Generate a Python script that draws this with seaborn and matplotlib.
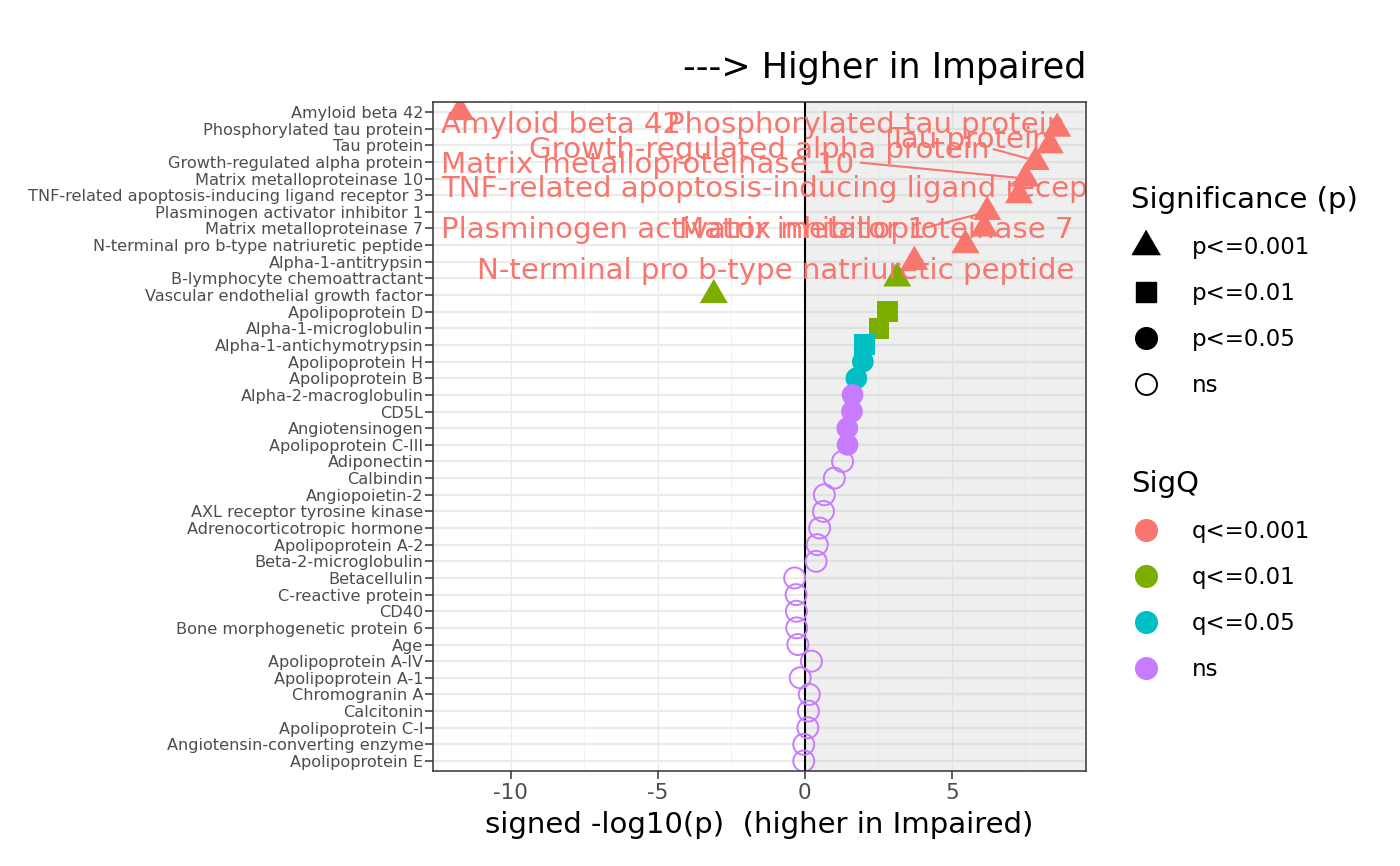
import matplotlib
matplotlib.use("Agg")
import matplotlib.pyplot as plt
from matplotlib.lines import Line2D
import pandas as pd
import seaborn as sns

# --- data ---
proteins = [
    "Amyloid beta 42", "Phosphorylated tau protein", "Tau protein",
    "Growth-regulated alpha protein", "Matrix metalloproteinase 10",
    "TNF-related apoptosis-inducing ligand receptor 3",
    "Plasminogen activator inhibitor 1", "Matrix metalloproteinase 7",
    "N-terminal pro b-type natriuretic peptide", "Alpha-1-antitrypsin",
    "B-lymphocyte chemoattractant", "Vascular endothelial growth factor",
    "Apolipoprotein D", "Alpha-1-microglobulin", "Alpha-1-antichymotrypsin",
    "Apolipoprotein H", "Apolipoprotein B", "Alpha-2-macroglobulin", "CD5L",
    "Angiotensinogen", "Apolipoprotein C-III", "Adiponectin", "Calbindin",
    "Angiopoietin-2", "AXL receptor tyrosine kinase",
    "Adrenocorticotropic hormone", "Apolipoprotein A-2", "Beta-2-microglobulin",
    "Betacellulin", "C-reactive protein", "CD40", "Bone morphogenetic protein 6",
    "Age", "Apolipoprotein A-IV", "Apolipoprotein A-1", "Chromogranin A",
    "Calcitonin", "Apolipoprotein C-I", "Angiotensin-converting enzyme",
    "Apolipoprotein E",
]
scores = [
    -11.73, 8.58, 8.33, 7.85, 7.5, 7.28, 6.2, 6.1, 5.46, 3.72,
    3.14, -3.1, 2.81, 2.52, 2.02, 1.97, 1.75, 1.62, 1.6, 1.44,
    1.45, 1.28, 1.0, 0.66, 0.63, 0.5, 0.42, 0.38, -0.35, -0.3,
    -0.29, -0.28, -0.24, 0.22, -0.16, 0.15, 0.12, 0.1, -0.04, -0.04,
]
sig_p = (["p<=0.001"] * 12 + ["p<=0.01"] * 3 + ["p<=0.05"] * 6 + ["ns"] * 19)
sig_q = (["q<=0.001"] * 10 + ["q<=0.01"] * 4 + ["q<=0.05"] * 3
         + ["ns"] * 4 + ["ns"] * 19)

p_levels = ["p<=0.001", "p<=0.01", "p<=0.05", "ns"]
q_levels = ["q<=0.001", "q<=0.01", "q<=0.05", "ns"]
q_colors = {"q<=0.001": "#F8766D", "q<=0.01": "#7CAE00",
            "q<=0.05": "#00BFC4", "ns": "#C77CFF"}

# repel-style labels: text, left edge (x units), baseline (row units)
label_text = [
    "Amyloid beta 42", "Phosphorylated tau protein", "Tau protein",
    "Growth-regulated alpha protein", "Matrix metalloproteinase 10",
    "TNF-related apoptosis-inducing ligand receptor 3",
    "Plasminogen activator inhibitor 1", "Matrix metalloproteinase 7",
    "N-terminal pro b-type natriuretic peptide",
]
label_x = [-12.38, -4.69, 2.82, -9.39, -12.38, -12.38, -12.38, -4.29, -11.16]
label_y = [1.24, 1.24, 2.14, 2.78, 3.65, 5.08, 7.6, 7.6, 10.04]
# connector segments ((x0, x1), (y0, y1))
segments = [
    ((6.39, 7.76), (2.22, 2.88)),
    ((1.87, 7.76), (3.04, 4.04)),
    ((2.86, 2.86), (1.14, 3.06)),
    ((4.08, 5.95), (6.96, 6.12)),
]

df = pd.DataFrame({"protein": proteins, "score": scores,
                   "SigP": sig_p, "SigQ": sig_q})
df["row"] = range(len(df))

red = q_colors["q<=0.001"]
tri = [(0, 1), (-0.866, -0.5), (0.866, -0.5)]

fig = plt.figure(figsize=(14, 8.66), dpi=100)
ax = fig.add_axes([0.3093, 0.1097, 0.4664, 0.7725])

xmin, xmax = -12.65, 9.56
ax.set_xlim(xmin, xmax)
ax.set_ylim(len(df) - 1 + 0.6, -0.6)

# grid
ax.set_axisbelow(True)
for r in df["row"]:
    ax.axhline(r, color="#EBEBEB", lw=1.6, zorder=0.5)
for xv in [-10, -5, 0, 5]:
    ax.axvline(xv, color="#EBEBEB", lw=0.95, zorder=0.5)
for xv in [-12.5, -7.5, -2.5, 2.5, 7.5]:
    ax.axvline(xv, color="#EBEBEB", lw=0.5, zorder=0.5)

ax.axvspan(0, xmax, color="#BEBEBE", alpha=0.23, lw=0, zorder=1)
ax.axvline(0, color="black", lw=1.5, zorder=2)

filled = df[df["SigP"] != "ns"]
sns.scatterplot(
    data=filled, x="score", y="row", hue="SigQ", palette=q_colors,
    style="SigP", markers={"p<=0.001": tri, "p<=0.01": "s", "p<=0.05": "o"},
    size="SigP", sizes={"p<=0.001": 543, "p<=0.01": 228, "p<=0.05": 244},
    edgecolor="none", linewidth=0, legend=False, ax=ax, zorder=3,
)
open_pts = df[df["SigP"] == "ns"]
sns.scatterplot(
    data=open_pts, x="score", y="row", marker="o", s=228,
    facecolor="none", edgecolor=q_colors["ns"], linewidth=1.4,
    legend=False, ax=ax, zorder=3,
)

# labels + segments
for (sx, sy) in segments:
    ax.plot(sx, sy, color=red, lw=1.5, zorder=4, solid_capstyle="butt")
for txt, lx, ly in zip(label_text, label_x, label_y):
    ax.text(lx, ly, txt, color=red, fontsize=21.1, ha="left", va="baseline",
            clip_on=True, zorder=5)

# axes styling
ax.set_yticks(df["row"])
ax.set_yticklabels(df["protein"], fontsize=11.6, color="#4D4D4D")
ax.set_xticks([-10, -5, 0, 5])
ax.set_xticklabels(["-10", "-5", "0", "5"], fontsize=15.5, color="#4D4D4D")
ax.tick_params(axis="both", length=5.5, width=1.1, color="#333333", pad=3)
ax.tick_params(axis="y", pad=1.5)
for sp in ax.spines.values():
    sp.set_color("#333333")
    sp.set_linewidth(1.1)
    sp.set_zorder(6)
ax.set_ylabel("")
ax.set_xlabel("signed -log10(p)  (higher in Impaired)", fontsize=21)
ax.xaxis.set_label_coords(0.5, -0.0927)
ax.xaxis.label.set_va("baseline")

fig.text(1086 / 1400, 1 - 78.3 / 866, "---> Higher in Impaired",
         fontsize=25.2, ha="right", va="baseline")

# legends
p_handles = [
    Line2D([], [], marker=tri, color="black", markersize=23.3, linestyle="none"),
    Line2D([], [], marker="s", color="black", markersize=15.1, linestyle="none"),
    Line2D([], [], marker="o", color="black", markersize=15.6, linestyle="none"),
    Line2D([], [], marker="o", markerfacecolor="none", markeredgecolor="black",
           markeredgewidth=1.4, markersize=15.1, linestyle="none"),
]
q_handles = [Line2D([], [], marker="o", color=q_colors[q], markersize=15.6,
                    linestyle="none") for q in q_levels]

leg_kw = dict(frameon=False, fontsize=16.5, title_fontsize=21, borderpad=0,
              borderaxespad=0, handlelength=1.3, handletextpad=1.36,
              labelspacing=1.0, alignment="left", loc="upper left")
leg1 = fig.legend(p_handles, p_levels, title="Significance (p)",
                  bbox_to_anchor=(1131 / 1400, 1 - 185.5 / 866), **leg_kw)
leg2 = fig.legend(q_handles, q_levels, title="SigQ",
                  bbox_to_anchor=(1131 / 1400, 1 - 469.5 / 866), **leg_kw)

fig.savefig("out.png", dpi=100)
